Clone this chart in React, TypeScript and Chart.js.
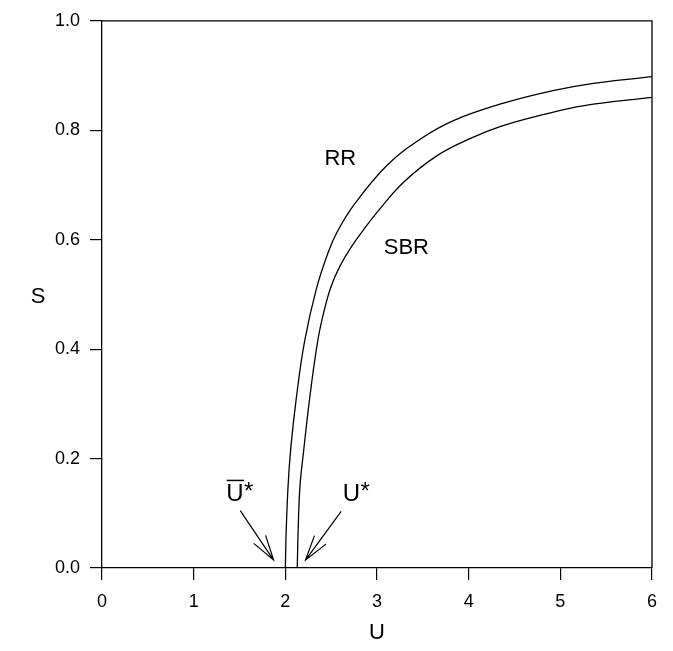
import React, { useEffect, useRef } from "react";
import { Chart, registerables } from "chart.js";

Chart.register(...registerables);

const xTicks = [0, 1, 2, 3, 4, 5, 6];
const yTicks = [0, 0.2, 0.4, 0.6, 0.8, 1.0];

const rrU = [2.0, 2.01, 2.03, 2.06, 2.12, 2.21, 2.34, 2.47, 2.565, 2.75, 3.11, 3.475, 3.84, 4.35, 4.8, 5.26, 6.0];
const rrS = [0, 0.07, 0.15, 0.22, 0.311, 0.414, 0.511, 0.578, 0.614, 0.664, 0.736, 0.784, 0.818, 0.848, 0.868, 0.883, 0.898];

const sbrU = [2.13, 2.14, 2.16, 2.2, 2.266, 2.353, 2.42, 2.5, 2.6, 2.72, 2.87, 3.0, 3.29, 3.66, 4.02, 4.35, 4.8, 5.26, 6.0];
const sbrS = [0, 0.07, 0.15, 0.2145, 0.311, 0.4145, 0.468, 0.515, 0.553, 0.587, 0.622, 0.65, 0.705, 0.754, 0.785, 0.807, 0.828, 0.845, 0.86];

const FONT = "'Liberation Sans', Arial, Helvetica, sans-serif";

const annotationPlugin = {
  id: "annotations",
  afterDraw(chart: any) {
    const { ctx, chartArea } = chart;
    const xs = chart.scales.x;
    const ys = chart.scales.y;
    const px = (u: number) => xs.getPixelForValue(u);
    const py = (s: number) => ys.getPixelForValue(s);
    ctx.save();
    // frame (top and right)
    ctx.strokeStyle = "#000";
    ctx.lineWidth = 1.3;
    ctx.beginPath();
    ctx.moveTo(chartArea.left, chartArea.top);
    ctx.lineTo(chartArea.right, chartArea.top);
    ctx.lineTo(chartArea.right, chartArea.bottom);
    ctx.stroke();

    ctx.fillStyle = "#000";
    ctx.textAlign = "center";
    ctx.textBaseline = "middle";
    ctx.font = `22px ${FONT}`;
    ctx.fillText("RR", px(2.6), py(0.747));
    ctx.fillText("SBR", px(3.32), py(0.585));
    // y axis title (upright)
    ctx.fillText("S", 38, py(0.495));
    // U-bar star
    ctx.font = `24px ${FONT}`;
    ctx.fillText("U", px(1.45), py(0.135));
    ctx.fillText("*", px(1.6), py(0.138));
    ctx.lineWidth = 1.5;
    ctx.beginPath();
    ctx.moveTo(px(1.36), py(0.16));
    ctx.lineTo(px(1.55), py(0.16));
    ctx.stroke();
    ctx.fillText("U", px(2.72), py(0.135));
    ctx.fillText("*", px(2.87), py(0.138));

    const arrow = (u0: number, s0: number, u1: number, s1: number) => {
      const x0 = px(u0), y0 = py(s0), x1 = px(u1), y1 = py(s1);
      const ang = Math.atan2(y0 - y1, x0 - x1);
      const len = 26;
      const spread = (16 * Math.PI) / 180;
      ctx.lineWidth = 1.2;
      ctx.beginPath();
      ctx.moveTo(x0, y0);
      ctx.lineTo(x1, y1);
      ctx.moveTo(x1 + len * Math.cos(ang - spread), y1 + len * Math.sin(ang - spread));
      ctx.lineTo(x1, y1);
      ctx.lineTo(x1 + len * Math.cos(ang + spread), y1 + len * Math.sin(ang + spread));
      ctx.stroke();
    };
    arrow(1.508, 0.105, 1.872, 0.0145);
    arrow(2.609, 0.1036, 2.22, 0.0145);
    ctx.restore();
  },
};

export default function App() {
  const ref = useRef<HTMLCanvasElement | null>(null);
  useEffect(() => {
    if (!ref.current) return;
    const chart = new Chart(ref.current, {
      type: "scatter",
      data: {
        datasets: [
          {
            label: "RR",
            data: rrU.map((u, i) => ({ x: u, y: rrS[i] })),
            showLine: true,
            borderColor: "#000",
            borderWidth: 1.3,
            pointRadius: 0,
            tension: 0.4,
          },
          {
            label: "SBR",
            data: sbrU.map((u, i) => ({ x: u, y: sbrS[i] })),
            showLine: true,
            borderColor: "#000",
            borderWidth: 1.3,
            pointRadius: 0,
            tension: 0.4,
          },
        ],
      },
      options: {
        animation: false,
        responsive: true,
        maintainAspectRatio: false,
        layout: { padding: { top: 18, right: 21, bottom: 0, left: 0 } },
        plugins: { legend: { display: false }, tooltip: { enabled: false } },
        scales: {
          x: {
            type: "linear",
            min: 0,
            max: 6,
            afterBuildTicks: (s: any) => {
              s.ticks = xTicks.map((v) => ({ value: v }));
            },
            afterFit: (s: any) => {
              s.height = 83;
            },
            ticks: {
              color: "#000",
              font: { family: FONT, size: 18 },
              padding: 11,
              callback: (v: any) => String(v),
            },
            grid: { drawOnChartArea: false, drawTicks: true, tickLength: 12, color: "#000", lineWidth: 1.2 },
            border: { display: true, color: "#000", width: 1.3 },
            title: {
              display: true,
              text: "U",
              color: "#000",
              font: { family: FONT, size: 22 },
              padding: { top: 0, bottom: 5 },
            },
          },
          y: {
            type: "linear",
            min: 0,
            max: 1,
            afterBuildTicks: (s: any) => {
              s.ticks = yTicks.map((v) => ({ value: v }));
            },
            afterFit: (s: any) => {
              s.width = 102;
            },
            ticks: {
              color: "#000",
              font: { family: FONT, size: 18 },
              padding: 10,
              callback: (v: any) => Number(v).toFixed(1),
            },
            grid: { drawOnChartArea: false, drawTicks: true, tickLength: 12, color: "#000", lineWidth: 1.2 },
            border: { display: true, color: "#000", width: 1.3 },
          },
        },
      },
      plugins: [annotationPlugin],
    } as any);
    return () => chart.destroy();
  }, []);
  return (
    <div style={{ position: "absolute", left: 0, top: 0, width: 673, height: 651, background: "#fff" }}>
      <canvas ref={ref} />
    </div>
  );
}
